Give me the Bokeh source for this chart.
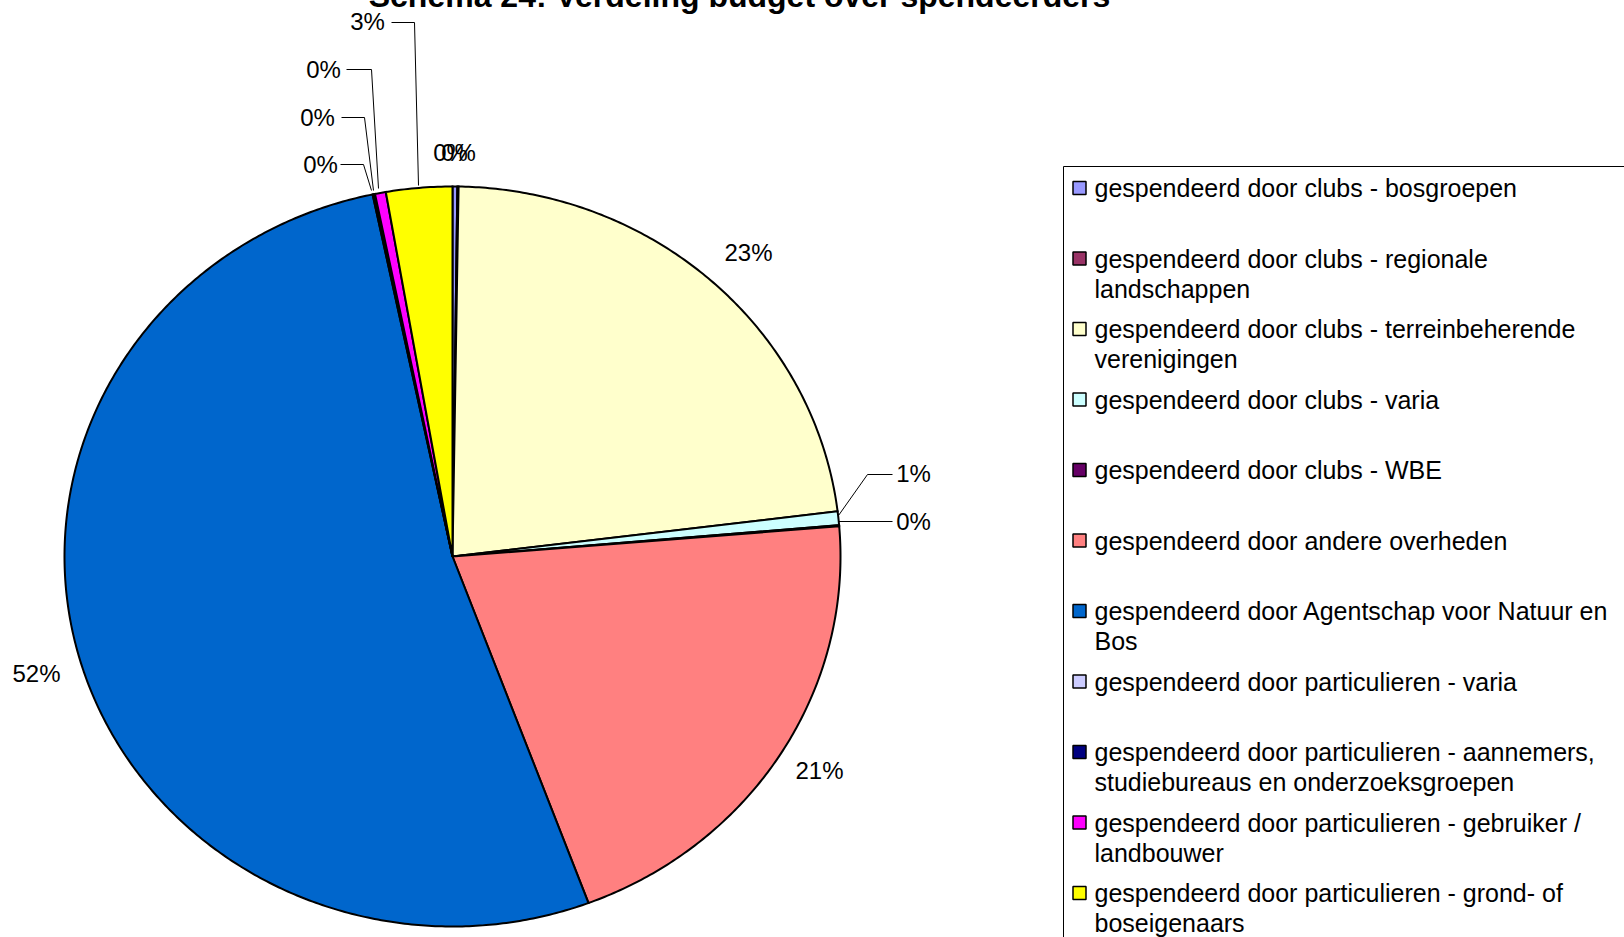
import numpy as np
from bokeh.plotting import figure
from bokeh.models import Range1d
from bokeh.core.properties import value
from bokeh.embed import file_html
from bokeh.resources import INLINE

# ---------------- data ----------------
title_text = "Schema 24: Verdeling budget over spendeerders"
categories = [
    "gespendeerd door clubs - bosgroepen",
    "gespendeerd door clubs - regionale\nlandschappen",
    "gespendeerd door clubs - terreinbeherende\nverenigingen",
    "gespendeerd door clubs - varia",
    "gespendeerd door clubs - WBE",
    "gespendeerd door andere overheden",
    "gespendeerd door Agentschap voor Natuur en\nBos",
    "gespendeerd door particulieren - varia",
    "gespendeerd door particulieren - aannemers,\nstudiebureaus en onderzoeksgroepen",
    "gespendeerd door particulieren - gebruiker /\nlandbouwer",
    "gespendeerd door particulieren - grond- of\nboseigenaars",
]
shares = [0.2, 0.05, 22.8, 0.6, 0.05, 20.6, 52.4, 0.05, 0.05, 0.45, 2.75]
colors = ["#9999FF", "#993366", "#FFFFCC", "#CCFFFF", "#660066", "#FF8080",
          "#0066CC", "#CCCCFF", "#000080", "#FF00FF", "#FFFF00"]
pct_labels = [f"{int(round(v))}%" for v in shares]

# ---------------- layout (page pixel coordinates) ----------------
W, H = 1624, 937
OFF = 8
CX, CY, RX, RY = 452, 556, 388, 370
label_pos = [(450, 152), (458, 152), (748, 252), (913, 473), (913, 521),
             (819, 770), (36, 673), (320, 164), (317, 117), (323, 69), (367, 21)]
leaders = {
    3: [(892, 474), (867, 474), (838, 515)],
    4: [(892, 521), (838, 521)],
    7: [(340, 164), (363, 164), (371, 190)],
    8: [(341, 117), (364, 117), (373, 190)],
    9: [(346, 69), (371, 69), (378, 188)],
    10: [(391, 22), (414, 22), (418, 185)],
}
LEG_X0, LEG_Y0 = 1063, 166
LEG_MARK_X, LEG_TEXT_X = 1079, 1094
LEG_ROW0, LEG_STEP, LEG_LINE = 187.5, 70.5, 30
FONT = "Liberation Sans"

p = figure(width=W + OFF, height=H + OFF, x_range=Range1d(-OFF, W),
           y_range=Range1d(H, -OFF),
           output_backend="svg", toolbar_location=None, min_border=0)
p.axis.visible = False
p.grid.visible = False
p.outline_line_color = None
p.background_fill_color = "white"
p.margin = (-8, -8, -8, -8)

# pie slices (elliptical, clockwise from 12 o'clock)
total = sum(shares)
cum = np.concatenate([[0.0], np.cumsum(shares)]) / total * 2 * np.pi
xs, ys = [], []
for i in range(len(shares)):
    n = max(2, int((cum[i + 1] - cum[i]) / (2 * np.pi) * 720))
    th = np.linspace(cum[i], cum[i + 1], n)
    xs.append([CX] + list(CX + RX * np.sin(th)))
    ys.append([CY] + list(CY - RY * np.cos(th)))
p.patches(xs, ys, fill_color=colors, line_color="black", line_width=2,
          line_join="miter")

# leader lines
for i, pts in leaders.items():
    p.line([q[0] for q in pts], [q[1] for q in pts], line_color="black", line_width=1)

# percent labels
p.text(x=[q[0] for q in label_pos], y=[q[1] for q in label_pos], text=pct_labels,
       text_font=value(FONT), text_font_size="24px", text_color="black",
       text_align="center", text_baseline="middle")

# title (partially cut off at top)
p.text(x=[739], y=[13], text=[title_text], text_font=value(FONT),
       text_font_size="32px", text_font_style="bold", text_align="center",
       text_baseline="bottom")

# legend box
p.quad(left=[LEG_X0], right=[W + 50], top=[LEG_Y0], bottom=[H + 50],
       fill_color=None, line_color="black", line_width=1)
mx, my, tx, ty, tt = [], [], [], [], []
for i, cat in enumerate(categories):
    yrow = LEG_ROW0 + i * LEG_STEP
    mx.append(LEG_MARK_X)
    my.append(yrow)
    for j, line in enumerate(cat.split("\n")):
        tx.append(LEG_TEXT_X)
        ty.append(yrow + j * LEG_LINE)
        tt.append(line)
p.scatter(mx, my, marker="square", size=13, fill_color=colors,
          line_color="black", line_width=1.5)
p.text(x=tx, y=ty, text=tt, text_font=value(FONT), text_font_size="25px",
       text_color="black", text_align="left", text_baseline="middle")

open("out.html", "w").write(file_html(p, INLINE))
